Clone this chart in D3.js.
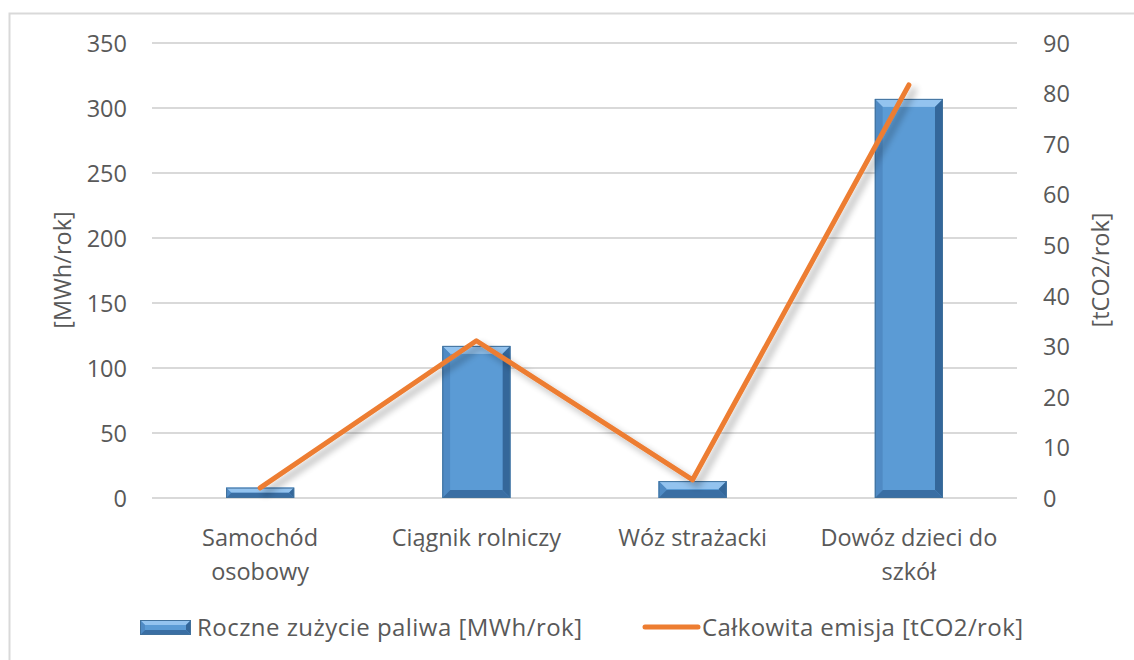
<!DOCTYPE html>
<html><head><meta charset="utf-8">
<script src="https://cdn.jsdelivr.net/npm/d3@7"></script>
<style>body{margin:0;background:#fff}svg{display:block}text{font-family:"Open Sans",sans-serif;fill:#595959}</style>
</head><body><svg id="c" width="1134" height="660"></svg>
<script>
const categories = ["Samochód osobowy", "Ciągnik rolniczy", "Wóz strażacki", "Dowóz dzieci do szkół"];
const categoryLines = [["Samochód","osobowy"],["Ciągnik rolniczy"],["Wóz strażacki"],["Dowóz dzieci do","szkół"]];
const fuelValues = [8, 117, 13, 307];
const emissionValues = [2.0, 31.1, 3.6, 81.7];
const leftTicks = [0,50,100,150,200,250,300,350];
const rightTicks = [0,10,20,30,40,50,60,70,80,90];
const seriesNames = ["Roczne zużycie paliwa [MWh/rok]", "Całkowita emisja [tCO2/rok]"];
const axisTitles = ["[MWh/rok]", "[tCO2/rok]"];

const FS = 23.5;
const svg = d3.select("#c");
const defs = svg.append("defs");
const f = defs.append("filter").attr("id","sh").attr("x","-20%").attr("y","-20%").attr("width","140%").attr("height","140%");
f.append("feGaussianBlur").attr("in","SourceAlpha").attr("stdDeviation",3.5);
f.append("feOffset").attr("dx",5).attr("dy",5).attr("result","b");
f.append("feComponentTransfer").append("feFuncA").attr("type","linear").attr("slope",0.3);
const m = f.append("feMerge"); m.append("feMergeNode"); m.append("feMergeNode").attr("in","SourceGraphic");

svg.append("rect").attr("x",9.5).attr("y",13.5).attr("width",1140).attr("height",700)
  .attr("fill","#fff").attr("stroke","#d9d9d9").attr("stroke-width",2);

const x = d3.scaleBand().domain(categories).range([152,1017]).paddingInner(0.685).paddingOuter(0.3425);
const yL = d3.scaleLinear().domain([0,350]).range([498,43]);
const yR = d3.scaleLinear().domain([0,90]).range([498,43]);

svg.append("g").selectAll("line").data(leftTicks).join("line")
  .attr("x1",152).attr("x2",1017).attr("y1",d=>yL(d)).attr("y2",d=>yL(d))
  .attr("stroke","#d9d9d9").attr("stroke-width",2);

const ax = svg.append("g").attr("transform","translate(127,0)")
  .call(d3.axisLeft(yL).tickValues(leftTicks).tickSize(0).tickPadding(0));
ax.select(".domain").remove();
ax.selectAll("text").attr("font-size",FS).attr("fill","#595959").attr("dy","0.35em").attr("font-family",null);
const axR = svg.append("g").attr("transform","translate(1043,0)")
  .call(d3.axisRight(yR).tickValues(rightTicks).tickSize(0).tickPadding(0));
axR.select(".domain").remove();
axR.selectAll("text").attr("font-size",FS).attr("fill","#595959").attr("dy","0.35em").attr("font-family",null);

function bevelBar(g, x0, y0, w, h, b) {
  b = Math.min(b, h/2, w/2);
  const pts = (a)=>a.map(p=>p.join(",")).join(" ");
  g.append("rect").attr("x",x0).attr("y",y0).attr("width",w).attr("height",h).attr("fill","#5b9bd5");
  g.append("polygon").attr("points",pts([[x0,y0],[x0+w,y0],[x0+w-b,y0+b],[x0+b,y0+b]])).attr("fill","#93c3ef");
  g.append("polygon").attr("points",pts([[x0,y0],[x0+b,y0+b],[x0+b,y0+h-b],[x0,y0+h]])).attr("fill","#4f8ac4");
  g.append("polygon").attr("points",pts([[x0+w,y0],[x0+w-b,y0+b],[x0+w-b,y0+h-b],[x0+w,y0+h]])).attr("fill","#34679a");
  g.append("polygon").attr("points",pts([[x0,y0+h],[x0+b,y0+h-b],[x0+w-b,y0+h-b],[x0+w,y0+h]])).attr("fill","#3a6ea3");
  g.append("rect").attr("x",x0+b).attr("y",y0+b).attr("width",w-2*b).attr("height",Math.max(0,h-2*b)).attr("fill","#5b9bd5");
  g.append("rect").attr("x",x0+0.5).attr("y",y0+0.5).attr("width",w-1).attr("height",h-1).attr("fill","none").attr("stroke","#41719c").attr("stroke-width",1);
}
const bars = svg.append("g");
categories.forEach((c,i)=>{
  bevelBar(bars.append("g"), x(c), yL(fuelValues[i]), x.bandwidth(), yL(0)-yL(fuelValues[i]), 8);
});

const line = d3.line().x((d,i)=>x(categories[i])+x.bandwidth()/2).y(d=>yR(d));
svg.append("path").datum(emissionValues).attr("d",line).attr("fill","none")
  .attr("stroke","#ed7d31").attr("stroke-width",5).attr("stroke-linecap","round").attr("stroke-linejoin","round")
  .attr("filter","url(#sh)");

categories.forEach((c,i)=>{
  const cx = x(c)+x.bandwidth()/2;
  const t = svg.append("text").attr("x",cx).attr("y",546).attr("text-anchor","middle").attr("font-size",FS);
  categoryLines[i].forEach((l,j)=>t.append("tspan").attr("x",cx).attr("dy",j?34:0).text(l));
});

svg.append("text").attr("transform","translate(71,270) rotate(-90)").attr("text-anchor","middle").attr("font-size",FS).text(axisTitles[0]);
svg.append("text").attr("transform","translate(1109,270) rotate(-90)").attr("text-anchor","middle").attr("font-size",FS).text(axisTitles[1]);

const lg = svg.append("g");
bevelBar(lg.append("g"), 140, 620, 51, 15, 5);
lg.append("text").attr("x",197).attr("y",636).attr("font-size",24).attr("textLength",385).attr("lengthAdjust","spacing").text(seriesNames[0]);
lg.append("line").attr("x1",645).attr("x2",698).attr("y1",627).attr("y2",627).attr("stroke","#ed7d31").attr("stroke-width",5).attr("stroke-linecap","round");
lg.append("text").attr("x",702).attr("y",636).attr("font-size",24).attr("textLength",321).attr("lengthAdjust","spacing").text(seriesNames[1]);
</script></body></html>
